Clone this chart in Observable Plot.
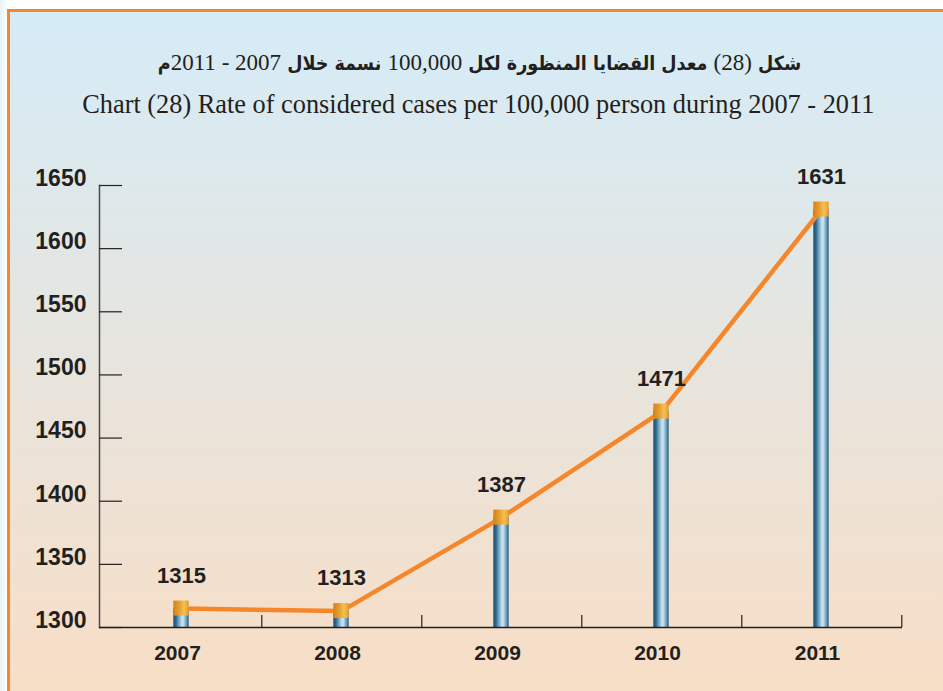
<!DOCTYPE html>
<html>
<head>
<meta charset="utf-8">
<script src="https://cdn.jsdelivr.net/npm/d3@7"></script>
<script src="https://cdn.jsdelivr.net/npm/@observablehq/plot@0.6"></script>
<style>
  body { margin: 0; }
  #wrap { position: relative; width: 943px; height: 691px; overflow: hidden; background: linear-gradient(to right, #e6f3fb 0px, #ffffff 7px); }
  #panel { position: absolute; left: 7px; top: 9px; width: 960px; height: 700px; border-top: 3px solid #f5862a; border-left: 3px solid #f5862a; background: linear-gradient(to bottom, #d5ecf8 0px, #e6e5df 330px, #f8dec6 682px); }
  #titleAr { position: absolute; left: 8px; width: 943px; top: 50px; text-align: center; direction: rtl; font-family: "DejaVu Sans Condensed", "DejaVu Sans", sans-serif; font-weight: bold; font-size: 19.5px; color: #231f20; }
  #titleAr .n { font-family: "Liberation Serif", serif; font-weight: normal; font-size: 23px; }
  #titleEn { position: absolute; left: 7px; width: 943px; top: 88px; text-align: center; font-family: "Liberation Serif", serif; font-size: 28px; color: #231f20; }
  #titleEn span { display: inline-block; transform: scaleX(0.94); white-space: nowrap; }
  #chart { position: absolute; left: 0; top: 140px; }
</style>
</head>
<body>
<div id="wrap">
  <div id="panel"></div>
  <div id="titleAr">شكل <span class="n">(28)</span> معدل القضايا المنظورة لكل <span class="n">100,000</span> نسمة خلال <span class="n">2007 - 2011</span>م</div>
  <div id="titleEn"><span>Chart (28) Rate of considered cases per 100,000 person during 2007 - 2011</span></div>
  <div id="chart"></div>
</div>
<script>
const years = ["2007", "2008", "2009", "2010", "2011"];
const values = [1315, 1313, 1387, 1471, 1631];
const yTicks = [1300, 1350, 1400, 1450, 1500, 1550, 1600, 1650];
const yMin = 1300;
const yMax = 1650;

const data = years.map((year, i) => ({year, value: values[i]}));

const W = 943, H = 540;
const mL = 99, mR = 41, mT = 45, mB = 53;
const plotW = W - mL - mR;
const plotH = H - mT - mB;
const band = plotW / years.length;
const barW = 16;
const inset = (band - barW) / 2;
const ink = "#231f20";

const defs = () => {
  const ns = "http://www.w3.org/2000/svg";
  const d = document.createElementNS(ns, "defs");
  d.innerHTML = `
    <linearGradient id="barGrad" x1="0" x2="1" y1="0" y2="0">
      <stop offset="0" stop-color="#1b5271"/>
      <stop offset="0.18" stop-color="#2d6a8c"/>
      <stop offset="0.45" stop-color="#9cc3dc"/>
      <stop offset="0.62" stop-color="#d4e9f6"/>
      <stop offset="0.8" stop-color="#7fadc9"/>
      <stop offset="1" stop-color="#245f80"/>
    </linearGradient>
    <linearGradient id="capGrad" x1="0" x2="1" y1="0" y2="0">
      <stop offset="0" stop-color="#d3821c"/>
      <stop offset="0.35" stop-color="#e39b2c"/>
      <stop offset="0.7" stop-color="#f6c04f"/>
      <stop offset="1" stop-color="#e39a30"/>
    </linearGradient>`;
  return d;
};

const chart = Plot.plot({
  width: W,
  height: H,
  marginLeft: mL,
  marginRight: mR,
  marginTop: mT,
  marginBottom: mB,
  style: { background: "transparent", fontFamily: "'Liberation Sans', Arial, sans-serif", overflow: "visible" },
  x: { domain: years, type: "band", paddingInner: 0, paddingOuter: 0 },
  y: { domain: [yMin, yMax] },
  marks: [
    defs,
    Plot.frame({ anchor: "left", stroke: "#4a4a4a", strokeWidth: 1.5 }),
    Plot.ruleY(yTicks, { y: d => d, insetRight: plotW - 23, stroke: ink, strokeWidth: 1.2 }),
    Plot.ruleX(years, { x: d => d, dx: band / 2, insetTop: plotH - 12, stroke: ink, strokeWidth: 1.2 }),
    Plot.axisY({ ticks: yTicks, tickFormat: d => String(d), tickSize: 0, tickPadding: 13, fontSize: 23, fontWeight: "bold", fill: ink, dy: -7, label: null }),
    Plot.axisX({ tickSize: 0, tickPadding: 18, fontSize: 21, fontWeight: "bold", fill: ink, dx: -4, label: null }),
    Plot.barY(data, { x: "year", y1: () => yMin, y2: "value", insetLeft: inset, insetRight: inset, fill: "url(#barGrad)" }),
    Plot.ruleY([yMin], { stroke: ink, strokeWidth: 1.6 }),
    Plot.line(data, { x: "year", y: "value", stroke: "#f5862a", strokeWidth: 4.5 }),
    Plot.barY(data, { x: "year", y1: "value", y2: "value", insetLeft: inset, insetRight: inset, insetTop: -7.5, insetBottom: -7.5, fill: "url(#capGrad)" }),
    Plot.text(data, { x: "year", y: "value", text: d => String(d.value), dy: -33, fontSize: 22, fontWeight: "bold", fill: ink })
  ]
});
document.getElementById("chart").appendChild(chart);
</script>
</body>
</html>
